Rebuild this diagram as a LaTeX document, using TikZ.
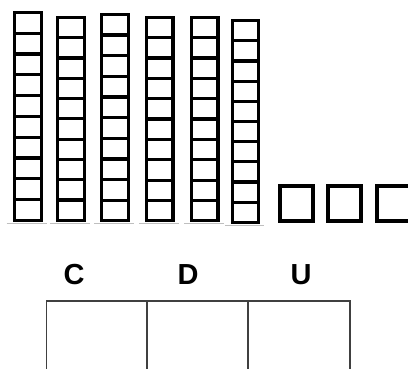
\documentclass[tikz,border=0pt]{standalone}
\usepackage{fontspec}
\setmainfont{Liberation Sans}
\begin{document}
\begin{tikzpicture}[x=1pt,y=-1pt,
  rod/.style={draw=black,line width=3.2pt},
  cube/.style={draw=black,line width=3.8pt},
  base/.style={draw=black!25,line width=0.9pt},
  tbl/.style={draw=black!75,line width=1.4pt},
  lbl/.style={font=\bfseries\fontsize{29}{30}\selectfont,inner sep=0pt,anchor=base}]
\useasboundingbox (0,0) rectangle (408,369);
% rods of ten: left, right, top (outer edges), bottom
\foreach \l/\r/\t/\b [count=\i] in {12.7/42.7/10.7/222, 56/86/15.7/222, 100/130/12.7/222.5, 145/174.5/15.7/222.5, 190/219.5/15.7/222.5, 231/260/19/224}{
  \draw[base] (\l-6,\b+1) -- (\r+4,\b+1);
  \pgfmathsetmacro{\L}{\l+1.6}\pgfmathsetmacro{\R}{\r-1.6}
  \pgfmathsetmacro{\T}{\t+1.6}\pgfmathsetmacro{\B}{\b-1.6}
  \draw[rod] (\L,\T) rectangle (\R,\B);
  \foreach \k in {1,...,9}{
    \pgfmathsetmacro{\Y}{\T+(\B-\T)*\k/10}
    \draw[rod] (\L,\Y) -- (\R,\Y);
  }
}
% unit cubes
\foreach \l in {278,326,375}{
  \draw[cube] (\l+1.9,185.9) rectangle (\l+37-1.9,223-1.9);
}
% labels
\node[lbl] (c) at (74,285) {C};
\node[lbl] (d) at (188,285) {D};
\node[lbl] (u) at (301,285) {U};
% table
\draw[tbl] (46.7,372) -- (46.7,301) -- (350,301) -- (350,372);
\draw[tbl] (147,301) -- (147,372);
\draw[tbl] (248,301) -- (248,372);
\end{tikzpicture}
\end{document}
